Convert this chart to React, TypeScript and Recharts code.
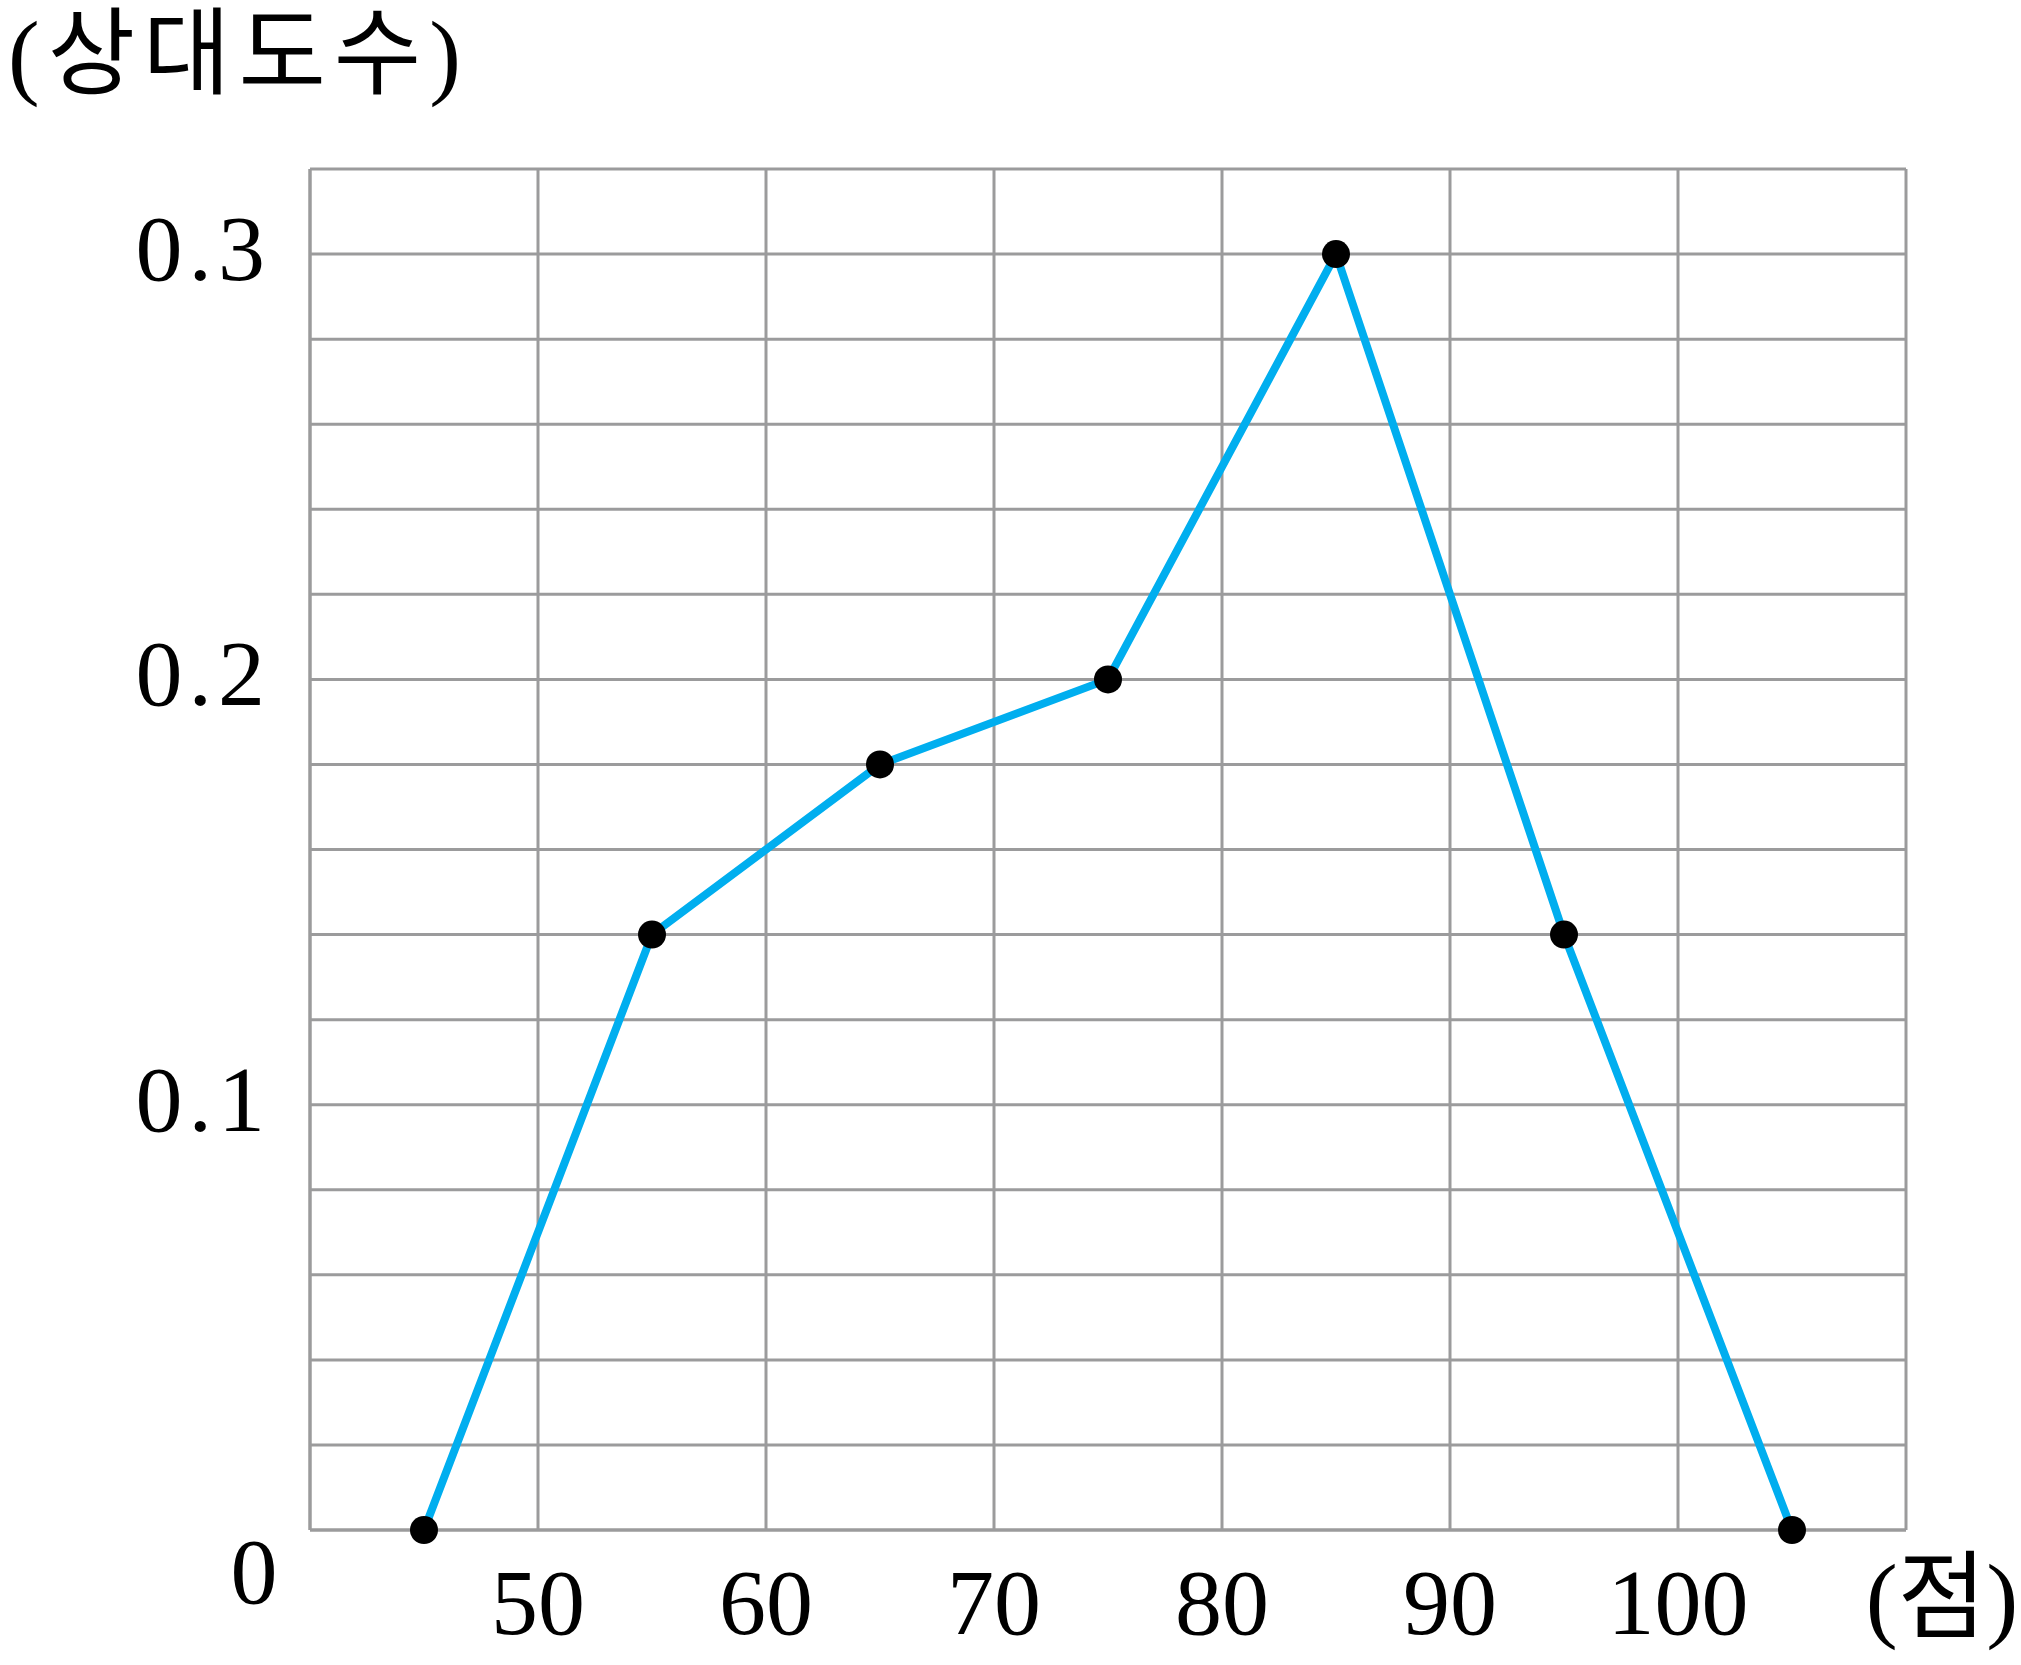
import { CartesianGrid, Line, LineChart, XAxis, YAxis } from "recharts"

// class midpoints (점) and relative frequency (상대도수)
const scores = [45, 55, 65, 75, 85, 95, 105]
const relFreq = [0, 0.14, 0.18, 0.2, 0.3, 0.14, 0]

const xTicks = [40, 50, 60, 70, 80, 90, 100, 110]
const xLabels = [50, 60, 70, 80, 90, 100]
const yTicks = [0, 0.02, 0.04, 0.06, 0.08, 0.1, 0.12, 0.14, 0.16, 0.18, 0.2, 0.22, 0.24, 0.26, 0.28, 0.3, 0.32]
const yLabels = ["0.1", "0.2", "0.3"]

const data = scores.map((s, i) => ({ score: s, value: relFreq[i] }))

const FONT = "'Liberation Serif', 'Noto Sans CJK KR', serif"
const GRID = "#9b9b9c"

function YTick({ x, y, payload }: any) {
  const v = payload.value
  if (v === 0) {
    return (
      <text x={x - 56} y={y + 73} textAnchor="middle" fontFamily={FONT} fontSize={94} fill="#000">
        0
      </text>
    )
  }
  const label = v.toFixed(1)
  if (!yLabels.includes(label) || Math.abs(v - Number(label)) > 1e-6) return null
  return (
    <text
      x={x - 39}
      y={y + 26}
      textAnchor="end"
      fontFamily={FONT}
      fontSize={94}
      letterSpacing={6}
      fill="#000"
    >
      {label}
    </text>
  )
}

function XTick({ x, y, payload }: any) {
  const v = payload.value
  if (v === 110) {
    return (
      <text x={x + 36} y={y + 100} textAnchor="middle" fontFamily={FONT} fontSize={96} fill="#000">
        (점)
      </text>
    )
  }
  if (!xLabels.includes(v)) return null
  return (
    <text x={x} y={y + 104} textAnchor="middle" fontFamily={FONT} fontSize={94} fill="#000">
      {v}
    </text>
  )
}

export default function App() {
  return (
    <div style={{ position: "absolute", left: 0, top: 0, width: 2021, height: 1665, background: "#fff" }}>
      <div
        style={{
          position: "absolute",
          left: 8,
          top: 6,
          fontFamily: FONT,
          fontSize: 95,
          letterSpacing: 8,
          lineHeight: 1.05,
          color: "#000",
          whiteSpace: "nowrap",
        }}
      >
        (상대도수)
      </div>
      <LineChart width={2021} height={1665} data={data} margin={{ top: 169, right: 115, bottom: 0, left: 0 }}>
        <CartesianGrid stroke={GRID} strokeWidth={3} />
        <XAxis
          dataKey="score"
          type="number"
          domain={[40, 110]}
          ticks={xTicks}
          interval={0}
          height={135}
          tickSize={0}
          tickMargin={0}
          tickLine={false}
          axisLine={{ stroke: GRID, strokeWidth: 3 }}
          tick={<XTick />}
        />
        <YAxis
          type="number"
          domain={[0, 0.32]}
          ticks={yTicks}
          interval={0}
          width={310}
          tickSize={0}
          tickMargin={0}
          tickLine={false}
          axisLine={{ stroke: GRID, strokeWidth: 3 }}
          tick={<YTick />}
        />
        <Line
          type="linear"
          dataKey="value"
          stroke="#00aeef"
          strokeWidth={8}
          dot={{ r: 14, fill: "#000", stroke: "none" }}
          activeDot={false}
          isAnimationActive={false}
        />
      </LineChart>
    </div>
  )
}
